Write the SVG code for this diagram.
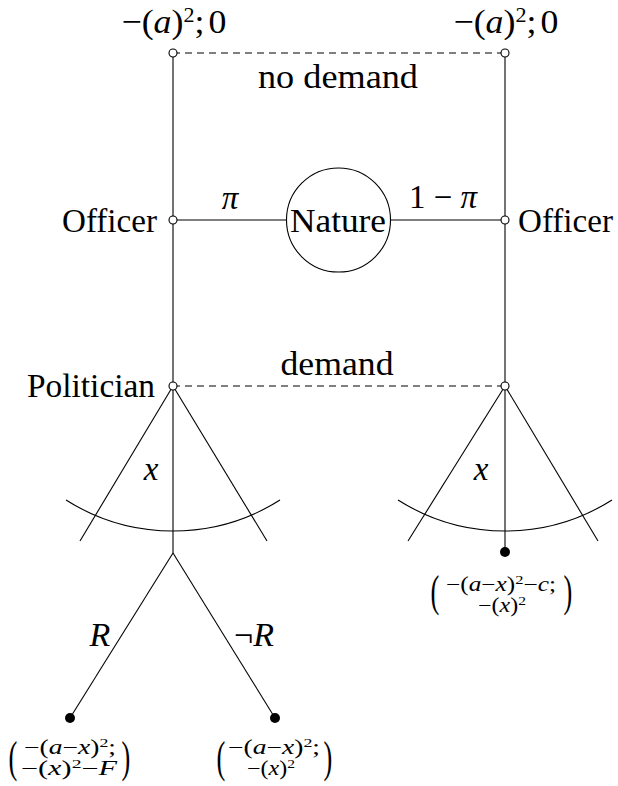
<svg xmlns="http://www.w3.org/2000/svg" width="618" height="786" viewBox="0 0 618 786">
<style>
.ln{stroke:#000;stroke-width:1.1;fill:none}
.da{stroke:#000;stroke-width:1.1;fill:none;stroke-dasharray:7 5}
.on{fill:#fff;stroke:#000;stroke-width:1.1}
.fn{fill:#000}
text{font-family:"Liberation Serif",serif;fill:#000}
.w{font-size:34px}
.m{font-size:33px}
.p{font-size:20px}
.i{font-style:italic}
.br{font-size:44px}
</style>
<rect width="618" height="786" fill="#fff"/>
<g id="connectors">
<line class="da" x1="173" y1="53" x2="505" y2="53"/>
<line class="da" x1="173" y1="386" x2="505" y2="386"/>
<line class="ln" x1="173" y1="53" x2="173" y2="553"/>
<line class="ln" x1="505" y1="53" x2="505" y2="552"/>
<line class="ln" x1="173" y1="220" x2="287" y2="220"/>
<line class="ln" x1="390" y1="220" x2="505" y2="220"/>
<line class="ln" x1="173" y1="386" x2="80" y2="541"/>
<line class="ln" x1="173" y1="386" x2="267" y2="541"/>
<line class="ln" x1="505" y1="386" x2="408" y2="541"/>
<line class="ln" x1="505" y1="386" x2="598" y2="541"/>
<path class="ln" d="M66,500 A200,200 0 0 0 280,500"/>
<path class="ln" d="M398,500 A200,200 0 0 0 612,500"/>
<line class="ln" x1="173" y1="553" x2="70" y2="718"/>
<line class="ln" x1="173" y1="553" x2="275" y2="718"/>
<text class="m" x="230" y="209" text-anchor="middle"><tspan class="i">π</tspan></text>
<text class="m" x="443" y="208" text-anchor="middle" textLength="68" lengthAdjust="spacing">1 − <tspan class="i">π</tspan></text>
<text class="m" x="151" y="480" text-anchor="middle"><tspan class="i">x</tspan></text>
<text class="m" x="481" y="480" text-anchor="middle"><tspan class="i">x</tspan></text>
<text class="w" x="100" y="646" text-anchor="middle"><tspan class="i">R</tspan></text>
<text class="w" x="254" y="646" text-anchor="middle">¬<tspan class="i">R</tspan></text>
<text class="w" x="338" y="88" text-anchor="middle" textLength="160" lengthAdjust="spacingAndGlyphs">no demand</text>
<text class="w" x="337" y="375" text-anchor="middle" textLength="113" lengthAdjust="spacingAndGlyphs">demand</text>
</g>
<g id="top-left">
<circle class="on" cx="173" cy="53" r="4"/>
<text class="w" x="174" y="33" text-anchor="middle" textLength="105" lengthAdjust="spacingAndGlyphs">−(<tspan class="i">a</tspan>)<tspan dy="-11" font-size="21">2</tspan><tspan dy="11">;</tspan><tspan dx="4">0</tspan></text>
</g>
<g id="top-right">
<circle class="on" cx="505" cy="53" r="4"/>
<text class="w" x="506" y="33" text-anchor="middle" textLength="105" lengthAdjust="spacingAndGlyphs">−(<tspan class="i">a</tspan>)<tspan dy="-11" font-size="21">2</tspan><tspan dy="11">;</tspan><tspan dx="4">0</tspan></text>
</g>
<g id="officer-left">
<circle class="on" cx="173" cy="220" r="4"/>
<text class="w" x="157" y="232" text-anchor="end" textLength="95" lengthAdjust="spacingAndGlyphs">Officer</text>
</g>
<g id="officer-right">
<circle class="on" cx="505" cy="220" r="4"/>
<text class="w" x="518" y="232" textLength="95" lengthAdjust="spacingAndGlyphs">Officer</text>
</g>
<g id="nature">
<circle class="ln" cx="338.5" cy="220" r="52"/>
<text class="w" x="338" y="232" text-anchor="middle" textLength="96" lengthAdjust="spacingAndGlyphs">Nature</text>
</g>
<g id="politician-left">
<circle class="on" cx="173" cy="386" r="4"/>
<text class="w" x="155" y="397" text-anchor="end" textLength="128" lengthAdjust="spacingAndGlyphs">Politician</text>
</g>
<g id="politician-right">
<circle class="on" cx="505" cy="386" r="4"/>
</g>
<g id="payoff-right">
<circle class="fn" cx="505" cy="552" r="5"/>
<text class="br" x="435" y="606" text-anchor="middle" transform="translate(435 0) scale(0.6 1) translate(-435 0)" font-size="41">(</text>
<text class="br" x="568" y="606" text-anchor="middle" transform="translate(568 0) scale(0.6 1) translate(-568 0)" font-size="41">)</text>
<text class="p" x="501" y="591" text-anchor="middle" textLength="110" lengthAdjust="spacingAndGlyphs">−(<tspan class="i">a</tspan>−<tspan class="i">x</tspan>)<tspan dy="-7" font-size="13">2</tspan><tspan dy="7">−</tspan><tspan class="i">c</tspan>;</text>
<text class="p" x="502" y="612" text-anchor="middle" textLength="48" lengthAdjust="spacingAndGlyphs">−(<tspan class="i">x</tspan>)<tspan dy="-7" font-size="13">2</tspan></text>
</g>
<g id="payoff-left">
<circle class="fn" cx="70" cy="718" r="5"/>
<text class="br" x="13" y="772" text-anchor="middle" transform="translate(13 0) scale(0.6 1) translate(-13 0)">(</text>
<text class="br" x="126" y="772" text-anchor="middle" transform="translate(126 0) scale(0.6 1) translate(-126 0)">)</text>
<text class="p" x="70" y="754" text-anchor="middle" textLength="92" lengthAdjust="spacingAndGlyphs">−(<tspan class="i">a</tspan>−<tspan class="i">x</tspan>)<tspan dy="-7" font-size="13">2</tspan><tspan dy="7">;</tspan></text>
<text class="p" x="69" y="775" text-anchor="middle" textLength="96" lengthAdjust="spacingAndGlyphs">−(<tspan class="i">x</tspan>)<tspan dy="-7" font-size="13">2</tspan><tspan dy="7">−</tspan><tspan class="i">F</tspan></text>
</g>
<g id="payoff-middle">
<circle class="fn" cx="275" cy="718" r="5"/>
<text class="br" x="221" y="772" text-anchor="middle" transform="translate(221 0) scale(0.6 1) translate(-221 0)">(</text>
<text class="br" x="328" y="772" text-anchor="middle" transform="translate(328 0) scale(0.6 1) translate(-328 0)">)</text>
<text class="p" x="274" y="754" text-anchor="middle" textLength="92" lengthAdjust="spacingAndGlyphs">−(<tspan class="i">a</tspan>−<tspan class="i">x</tspan>)<tspan dy="-7" font-size="13">2</tspan><tspan dy="7">;</tspan></text>
<text class="p" x="271" y="775" text-anchor="middle" textLength="48" lengthAdjust="spacingAndGlyphs">−(<tspan class="i">x</tspan>)<tspan dy="-7" font-size="13">2</tspan></text>
</g>
</svg>
